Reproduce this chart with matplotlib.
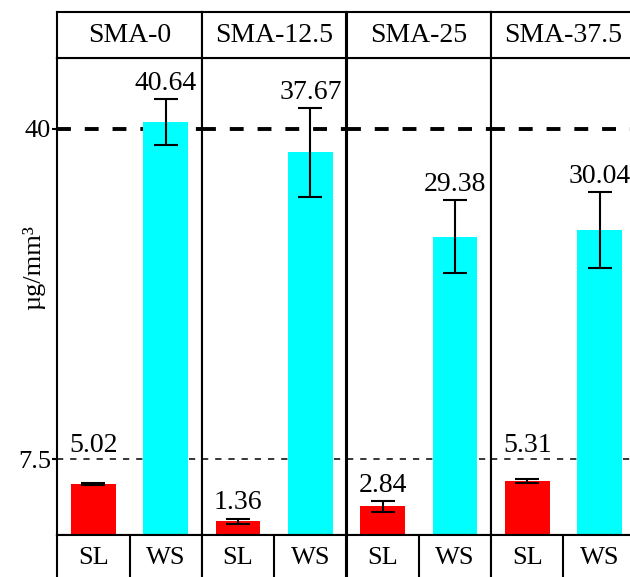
import matplotlib
matplotlib.use("Agg")
import matplotlib.pyplot as plt

plt.rcParams["font.family"] = ["Liberation Serif", "DejaVu Serif"]
plt.rcParams["lines.scale_dashes"] = False

# Data
groups = ["SMA-0", "SMA-12.5", "SMA-25", "SMA-37.5"]
measures = ["SL", "WS"]
sl_mean = [5.02, 1.36, 2.84, 5.31]
sl_sd = [0.10, 0.27, 0.56, 0.22]
ws_mean = [40.64, 37.67, 29.38, 30.04]
ws_sd = [2.25, 4.40, 3.57, 3.73]
ref_levels = [7.5, 40]
ytick_labels = ["7.5", "40"]

bar_colors = ["#FF0000", "#00FFFF"]

W, H = 630, 577
fig = plt.figure(figsize=(W / 100, H / 100), dpi=100)

def fx(px):
    return px / W

def fy(py):
    return 1 - py / H

panel_left = 57.3
panel_w = 144.6
panel_top = 57.7
panel_bot = 535.2
strip_top = 12.3
box_bot = 580.5
ymax = 47.0

lw_frame = 1.5
label_pad = 0.9      # gap above error bar (data units)
label_height = 2.0   # approximate text height (data units)
line_gap = 0.7       # gap above a reference line (data units)

for i, g in enumerate(groups):
    x0 = panel_left + i * panel_w
    # main panel
    ax = fig.add_axes([fx(x0), fy(panel_bot), fx(panel_w), (panel_bot - panel_top) / H])
    ax.set_xlim(-0.5, 1.5)
    ax.set_ylim(0, ymax)
    for s in ax.spines.values():
        s.set_linewidth(lw_frame)
        s.set_color("black")
    ax.set_xticks([])

    # reference lines
    ax.axhline(ref_levels[0], color="black", lw=1.1, dashes=(4.5, 5), zorder=1)
    ax.axhline(ref_levels[1], color="black", lw=2.8, dashes=(10, 10), zorder=1)

    means = [sl_mean[i], ws_mean[i]]
    sds = [sl_sd[i], ws_sd[i]]
    xs = [0, 1]
    ax.bar(xs, means, width=0.62, color=bar_colors, zorder=2)
    ax.errorbar(xs, means, yerr=sds, fmt="none", ecolor="black", elinewidth=1.5,
                capsize=8.3, capthick=1.5, zorder=3)

    for x, m, sd in zip(xs, means, sds):
        y = m + sd + label_pad
        for lv in ref_levels:
            if y < lv < y + label_height:
                y = lv + line_gap
        ax.text(x, y, f"{m:.2f}", ha="center", va="baseline", fontsize=20, zorder=4)

    if i == 0:
        ax.set_yticks(ref_levels)
        ax.set_yticklabels(ytick_labels, fontsize=19)
        ax.tick_params(axis="y", direction="out", length=3.5, width=1.5, pad=1)
    else:
        ax.set_yticks([])

    # facet strip
    sax = fig.add_axes([fx(x0), fy(panel_top), fx(panel_w), (panel_top - strip_top) / H])
    sax.set_xticks([])
    sax.set_yticks([])
    for s in sax.spines.values():
        s.set_linewidth(lw_frame)
    sax.text(0.5, 0.5, g, ha="center", va="center", fontsize=20, transform=sax.transAxes)

    # category boxes below
    bax = fig.add_axes([fx(x0), fy(box_bot), fx(panel_w), (box_bot - panel_bot) / H])
    bax.set_xlim(-0.5, 1.5)
    bax.set_ylim(0, 1)
    bax.set_xticks([])
    bax.set_yticks([])
    for s in bax.spines.values():
        s.set_linewidth(lw_frame)
    bax.axvline(0.5, color="black", lw=lw_frame)
    for x, lab in zip(xs, measures):
        bax.text(x, 0.5, lab, ha="center", va="center", fontsize=19)

fig.text(fx(34), fy(268), "µg/mm³", rotation=90, ha="center", va="center", fontsize=19)

fig.savefig("out.png", dpi=100)
